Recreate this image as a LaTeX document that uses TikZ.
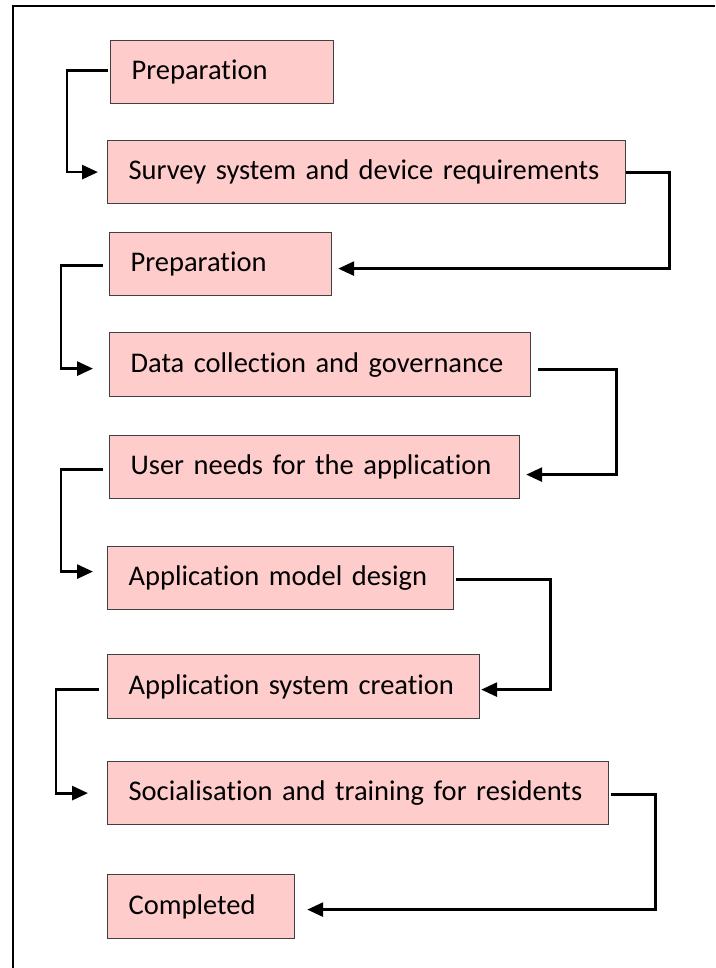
\documentclass[tikz,border=0pt]{standalone}
\usepackage{fontspec}
\setmainfont{Carlito}[Ligatures=NoCommon]
\usetikzlibrary{arrows.meta}
\definecolor{stagepink}{RGB}{255,204,204}
\tikzset{
	stage/.style={draw=black!75, line width=1.2pt, fill=stagepink, anchor=north west,
		align=left, inner xsep=21pt, inner ysep=0pt, minimum height=63pt,
		text height=20pt, text depth=5pt, font=\fontsize{28.5}{34}\selectfont},
	flow/.style={line width=2.8pt, -{Triangle[length=16pt,width=14pt]}},
}

\begin{document}
\begin{tikzpicture}[x=1pt, y=-1pt]
		%%%%% START %%%%%
		\useasboundingbox (0,0) rectangle (715,968);
		
		% outer frame, only top and left edges show
		\draw[line width=2.6pt] (13,968) -- (13,6) -- (715,6);
		
		% stages
		\node[stage, text width=181pt] (prep1) at (110,40) {Preparation};
		\node[stage, text width=476pt] (survey) at (107,140) {Survey system and device requirements};
		\node[stage, text width=180pt] (prep2) at (109,232) {Preparation};
		\node[stage, text width=379pt, minimum height=64pt] (data) at (109,332) {Data collection and governance};
		\node[stage, text width=368pt] (needs) at (109,435) {User needs for the application};
		\node[stage, text width=304pt] (model) at (107,546) {Application model design};
		\node[stage, text width=330pt, minimum height=64pt] (build) at (107,654) {Application system creation};
		\node[stage, text width=459pt] (train) at (107,761) {Socialisation and training for residents};
		\node[stage, text width=145pt, minimum height=64pt] (done) at (107,874) {Completed};
		
		% left hand loops
		\draw[flow] ([xshift=-2pt,yshift=1.5pt]prep1.west) -- ++(-41,0) |- ([xshift=-9pt]survey.west);
		\draw[flow] ([xshift=-6pt,yshift=-1.5pt]prep2.west) -- ++(-42,0) |- ([xshift=-16pt,yshift=-4pt]data.west);
		\draw[flow] ([xshift=-6pt,yshift=-2.5pt]needs.west) -- ++(-42,0) |- ([xshift=-14pt,yshift=6.5pt]model.west);
		\draw[flow] ([xshift=-8pt,yshift=-3pt]build.west) -- ++(-43,0) |- ([xshift=-19pt]train.west);
		
		% right hand loops
		\draw[flow] ([yshift=-0.5pt]survey.east) -- ++(43,0) |- ([xshift=6pt,yshift=-4.5pt]prep2.east);
		\draw[flow] ([xshift=7pt,yshift=-5pt]data.east) -- ++(78,0) |- ([xshift=6pt,yshift=-7.5pt]needs.east);
		\draw[flow] ([xshift=2pt,yshift=-1.5pt]model.east) -- ++(94,0) |- ([xshift=1pt,yshift=-3pt]build.east);
		\draw[flow] ([xshift=2pt,yshift=-1.5pt]train.east) -- ++(44,0) |- ([xshift=12pt,yshift=-3pt]done.east);
		
		%%%%% END %%%%%
	\end{tikzpicture}
\end{document}
